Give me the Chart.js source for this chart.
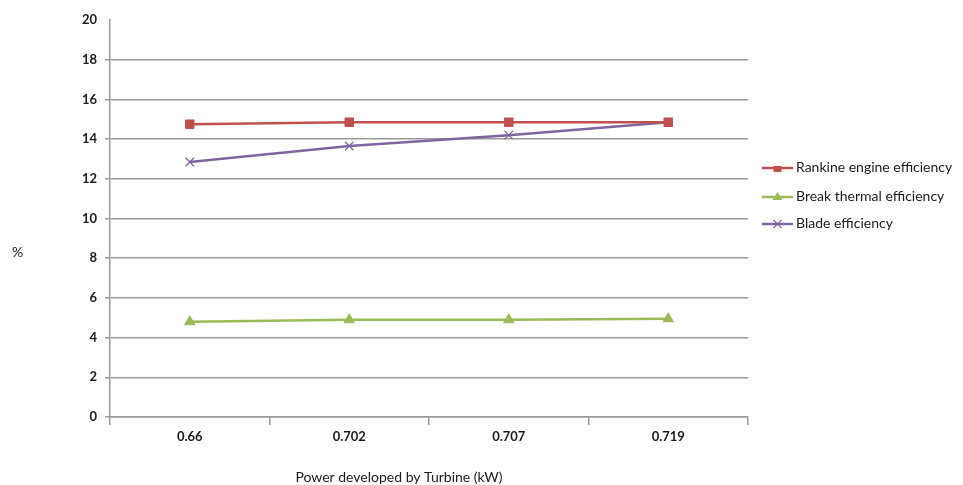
<!DOCTYPE html>
<html>
<head>
<meta charset="utf-8">
<script src="https://cdn.jsdelivr.net/npm/chart.js@4"></script>
<style>
  html, body { margin: 0; padding: 0; background: #fff; }
  #wrap { width: 963px; height: 485px; position: relative; }
</style>
</head>
<body>
<div id="wrap"><canvas id="chart" width="963" height="485"></canvas></div>
<script>
const categories = ["0.66", "0.702", "0.707", "0.719"];
const rankine = [14.75, 14.85, 14.85, 14.85];
const breakThermal = [4.8, 4.9, 4.9, 4.95];
const blade = [12.85, 13.65, 14.2, 14.85];
const yTicks = [0, 2, 4, 6, 8, 10, 12, 14, 16, 18, 20];

const FONT = "Lato, 'Open Sans', sans-serif";

// legend, "%" and x title drawn by hand, Excel style
const extras = {
  id: "extras",
  afterDraw(chart) {
    const c = chart.ctx;
    c.save();
    c.fillStyle = "#1a1a1a";
    c.font = "14px " + FONT;
    c.textAlign = "left";
    c.textBaseline = "middle";
    c.fillText("%", 12, 252);

    c.textAlign = "center";
    c.fillText("Power developed by Turbine (kW)", 399, 477);

    c.textAlign = "left";
    const rows = [168, 197, 224];
    chart.data.datasets.forEach((ds, i) => {
      const y = rows[i];
      c.strokeStyle = ds.borderColor;
      c.lineWidth = 2.5;
      c.beginPath();
      c.moveTo(762, y);
      c.lineTo(793, y);
      c.stroke();
      const mx = 777.5;
      c.fillStyle = ds.borderColor;
      if (ds.pointStyle === "rect") {
        c.fillRect(mx - 4, y - 2, 8, 6);
      } else if (ds.pointStyle === "triangle") {
        c.beginPath();
        c.moveTo(mx, y - 5);
        c.lineTo(mx + 5, y + 3);
        c.lineTo(mx - 5, y + 3);
        c.closePath();
        c.fill();
      } else {
        c.lineWidth = 1.2;
        c.beginPath();
        c.moveTo(mx - 4, y - 4); c.lineTo(mx + 4, y + 4);
        c.moveTo(mx + 4, y - 4); c.lineTo(mx - 4, y + 4);
        c.stroke();
      }
      c.fillStyle = "#1a1a1a";
      c.font = "14px " + FONT;
      c.fillText(ds.label, 796, y - 1);
    });
    c.restore();
  }
};

new Chart(document.getElementById("chart"), {
  type: "line",
  data: {
    labels: categories,
    datasets: [
      {
        label: "Rankine engine efficiency",
        data: rankine,
        borderColor: "#c0504d",
        backgroundColor: "#c0504d",
        borderWidth: 2.5,
        pointStyle: "rect",
        pointRadius: 6,
        pointBorderWidth: 1
      },
      {
        label: "Break thermal efficiency",
        data: breakThermal,
        borderColor: "#9bbb59",
        backgroundColor: "#9bbb59",
        borderWidth: 2.5,
        pointStyle: "triangle",
        pointRadius: 6,
        pointBorderWidth: 1
      },
      {
        label: "Blade efficiency",
        data: blade,
        borderColor: "#8064a2",
        backgroundColor: "#8064a2",
        borderWidth: 2.5,
        pointStyle: "crossRot",
        pointRadius: 6,
        pointBorderWidth: 1.3
      }
    ]
  },
  options: {
    responsive: false,
    animation: false,
    layout: { padding: { top: 20, right: 215, left: 0, bottom: 0 } },
    plugins: { legend: { display: false }, tooltip: { enabled: false } },
    scales: {
      x: {
        offset: true,
        afterFit: s => { s.height = 68; },
        grid: {
          offset: true,
          drawOnChartArea: false,
          drawTicks: true,
          tickLength: 8,
          color: "#9a9a9a",
          lineWidth: 1.5
        },
        border: { color: "#9a9a9a", width: 1.5 },
        ticks: { color: "#1a1a1a", font: { family: FONT, size: 13, weight: "bold" }, padding: 4 }
      },
      y: {
        min: 0,
        max: 20,
        afterFit: s => { s.width = 110; },
        afterBuildTicks: s => { s.ticks = yTicks.map(v => ({ value: v })); },
        grid: {
          color: ctx => (ctx.tick && ctx.tick.value === 20 ? "rgba(0,0,0,0)" : "#9a9a9a"),
          lineWidth: 1.5,
          tickLength: 5
        },
        border: { color: "#9a9a9a", width: 1.5 },
        ticks: { color: "#1a1a1a", font: { family: FONT, size: 13, weight: "bold" }, padding: 8 }
      }
    }
  },
  plugins: [extras]
});
</script>
</body>
</html>
